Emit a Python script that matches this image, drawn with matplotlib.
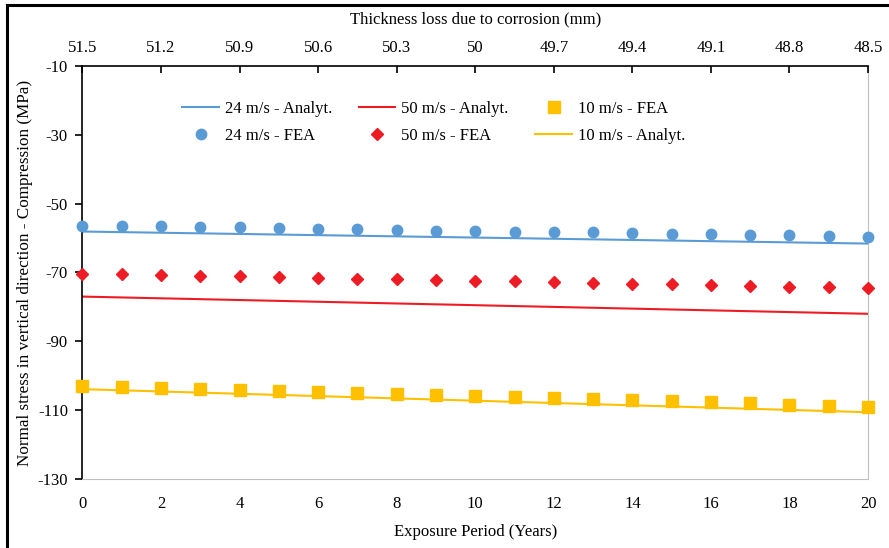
import matplotlib
matplotlib.use("Agg")
import numpy as np
from matplotlib import pyplot as plt
from matplotlib.lines import Line2D

plt.rcParams['font.family'] = ['Liberation Serif', 'DejaVu Serif']
plt.rcParams['font.size'] = 12
plt.rcParams['axes.unicode_minus'] = False

# exposure period (years)
years = list(range(0, 21))

# FEA results (MPa)
fea_24 = [-56.4, -56.4, -56.6, -56.8, -56.9, -57.2, -57.4, -57.5, -57.6, -57.8, -58.0,
          -58.1, -58.2, -58.3, -58.6, -58.7, -58.9, -59.0, -59.2, -59.4, -59.6]
fea_50 = [-70.5, -70.5, -70.7, -71.0, -71.1, -71.4, -71.7, -71.8, -72.0, -72.2, -72.4,
          -72.5, -72.8, -73.0, -73.2, -73.4, -73.6, -73.8, -74.1, -74.3, -74.5]
fea_10 = [-103.0, -103.4, -103.6, -103.9, -104.1, -104.4, -104.8, -105.0, -105.3, -105.6, -105.9,
          -106.2, -106.5, -106.8, -107.0, -107.3, -107.7, -108.0, -108.4, -108.7, -109.1]

# analytical results (MPa), at start and end of the period
analyt_years = [0, 20]
analyt_24 = [-58.1, -61.6]
analyt_50 = [-77.0, -82.0]
analyt_10 = [-103.9, -110.6]

# top axis: thickness (mm)
thick_ticks = [51.5, 51.2, 50.9, 50.6, 50.3, 50.0, 49.7, 49.4, 49.1, 48.8, 48.5]
thick_labels = ['51.5', '51.2', '50.9', '50.6', '50.3', '50', '49.7', '49.4', '49.1', '48.8', '48.5']

BLUE = '#5B9BD5'
RED = '#ED1C24'
YELLOW = '#FFC000'
GRAY = '#BFBFBF'

fig = plt.figure(figsize=(8.89, 5.48), dpi=100)
ax = fig.add_axes([0.0928, 0.1259, 0.8836, 0.7537])

ax.plot(analyt_years, analyt_24, color=BLUE, lw=1.5, label='24 m/s - Analyt.', zorder=2)
ax.plot(years, fea_24, 'o', color=BLUE, ms=7.5, ls='none', label='24 m/s - FEA', zorder=3, clip_on=False)
ax.plot(analyt_years, analyt_50, color=RED, lw=1.5, label='50 m/s - Analyt.', zorder=2)
ax.plot(years, fea_50, 'D', color=RED, ms=6, ls='none', label='50 m/s - FEA', zorder=3, clip_on=False)
ax.plot(years, fea_10, 's', color=YELLOW, ms=8, ls='none', label='10 m/s - FEA', zorder=3, clip_on=False)
ax.plot(analyt_years, analyt_10, color=YELLOW, lw=1.5, label='10 m/s - Analyt.', zorder=2)

ax.set_xlim(0, 20)
ax.set_ylim(-130, -10)
ax.set_xticks(range(0, 21, 2))
ax.set_yticks(range(-130, 0, 20))
ax.tick_params(axis='x', length=0, pad=12, labelsize=12)
ax.tick_params(axis='y', direction='out', length=5, width=1.2, color='black', pad=5.5, labelsize=12)

ax.spines['left'].set_color('black')
ax.spines['left'].set_linewidth(1.2)
ax.spines['bottom'].set_color(GRAY)
ax.spines['right'].set_color(GRAY)
ax.spines['top'].set_color('black')
ax.spines['top'].set_linewidth(1.2)

ax.set_xlabel('Exposure Period (Years)', fontsize=12, labelpad=9)
ax.set_ylabel('Normal stress in vertical direction - Compression (MPa)', fontsize=12.3, labelpad=3)

top = ax.twiny()
top.set_xlim(51.5, 48.5)
top.set_xticks(thick_ticks)
top.set_xticklabels(thick_labels)
top.tick_params(axis='x', direction='in', length=5, width=1.2, color='black', pad=7, labelsize=12)
top.set_xlabel('Thickness loss due to corrosion (mm)', fontsize=12, labelpad=12)
for s in top.spines.values():
    s.set_visible(False)

leg = ax.legend(ncol=3, loc='upper left', bbox_to_anchor=(0.11, 0.947), frameon=False,
                fontsize=12, handlelength=2.2, columnspacing=1.6, labelspacing=0.62,
                handletextpad=0.35, borderpad=0.3)

# outer border of the figure
fig.add_artist(Line2D([0.008, 1.0], [0.991, 0.991], color='black', lw=2.2, transform=fig.transFigure))
fig.add_artist(Line2D([0.008, 0.008], [0.0, 0.991], color='black', lw=2.2, transform=fig.transFigure))

fig.savefig('out.png', dpi=100)
